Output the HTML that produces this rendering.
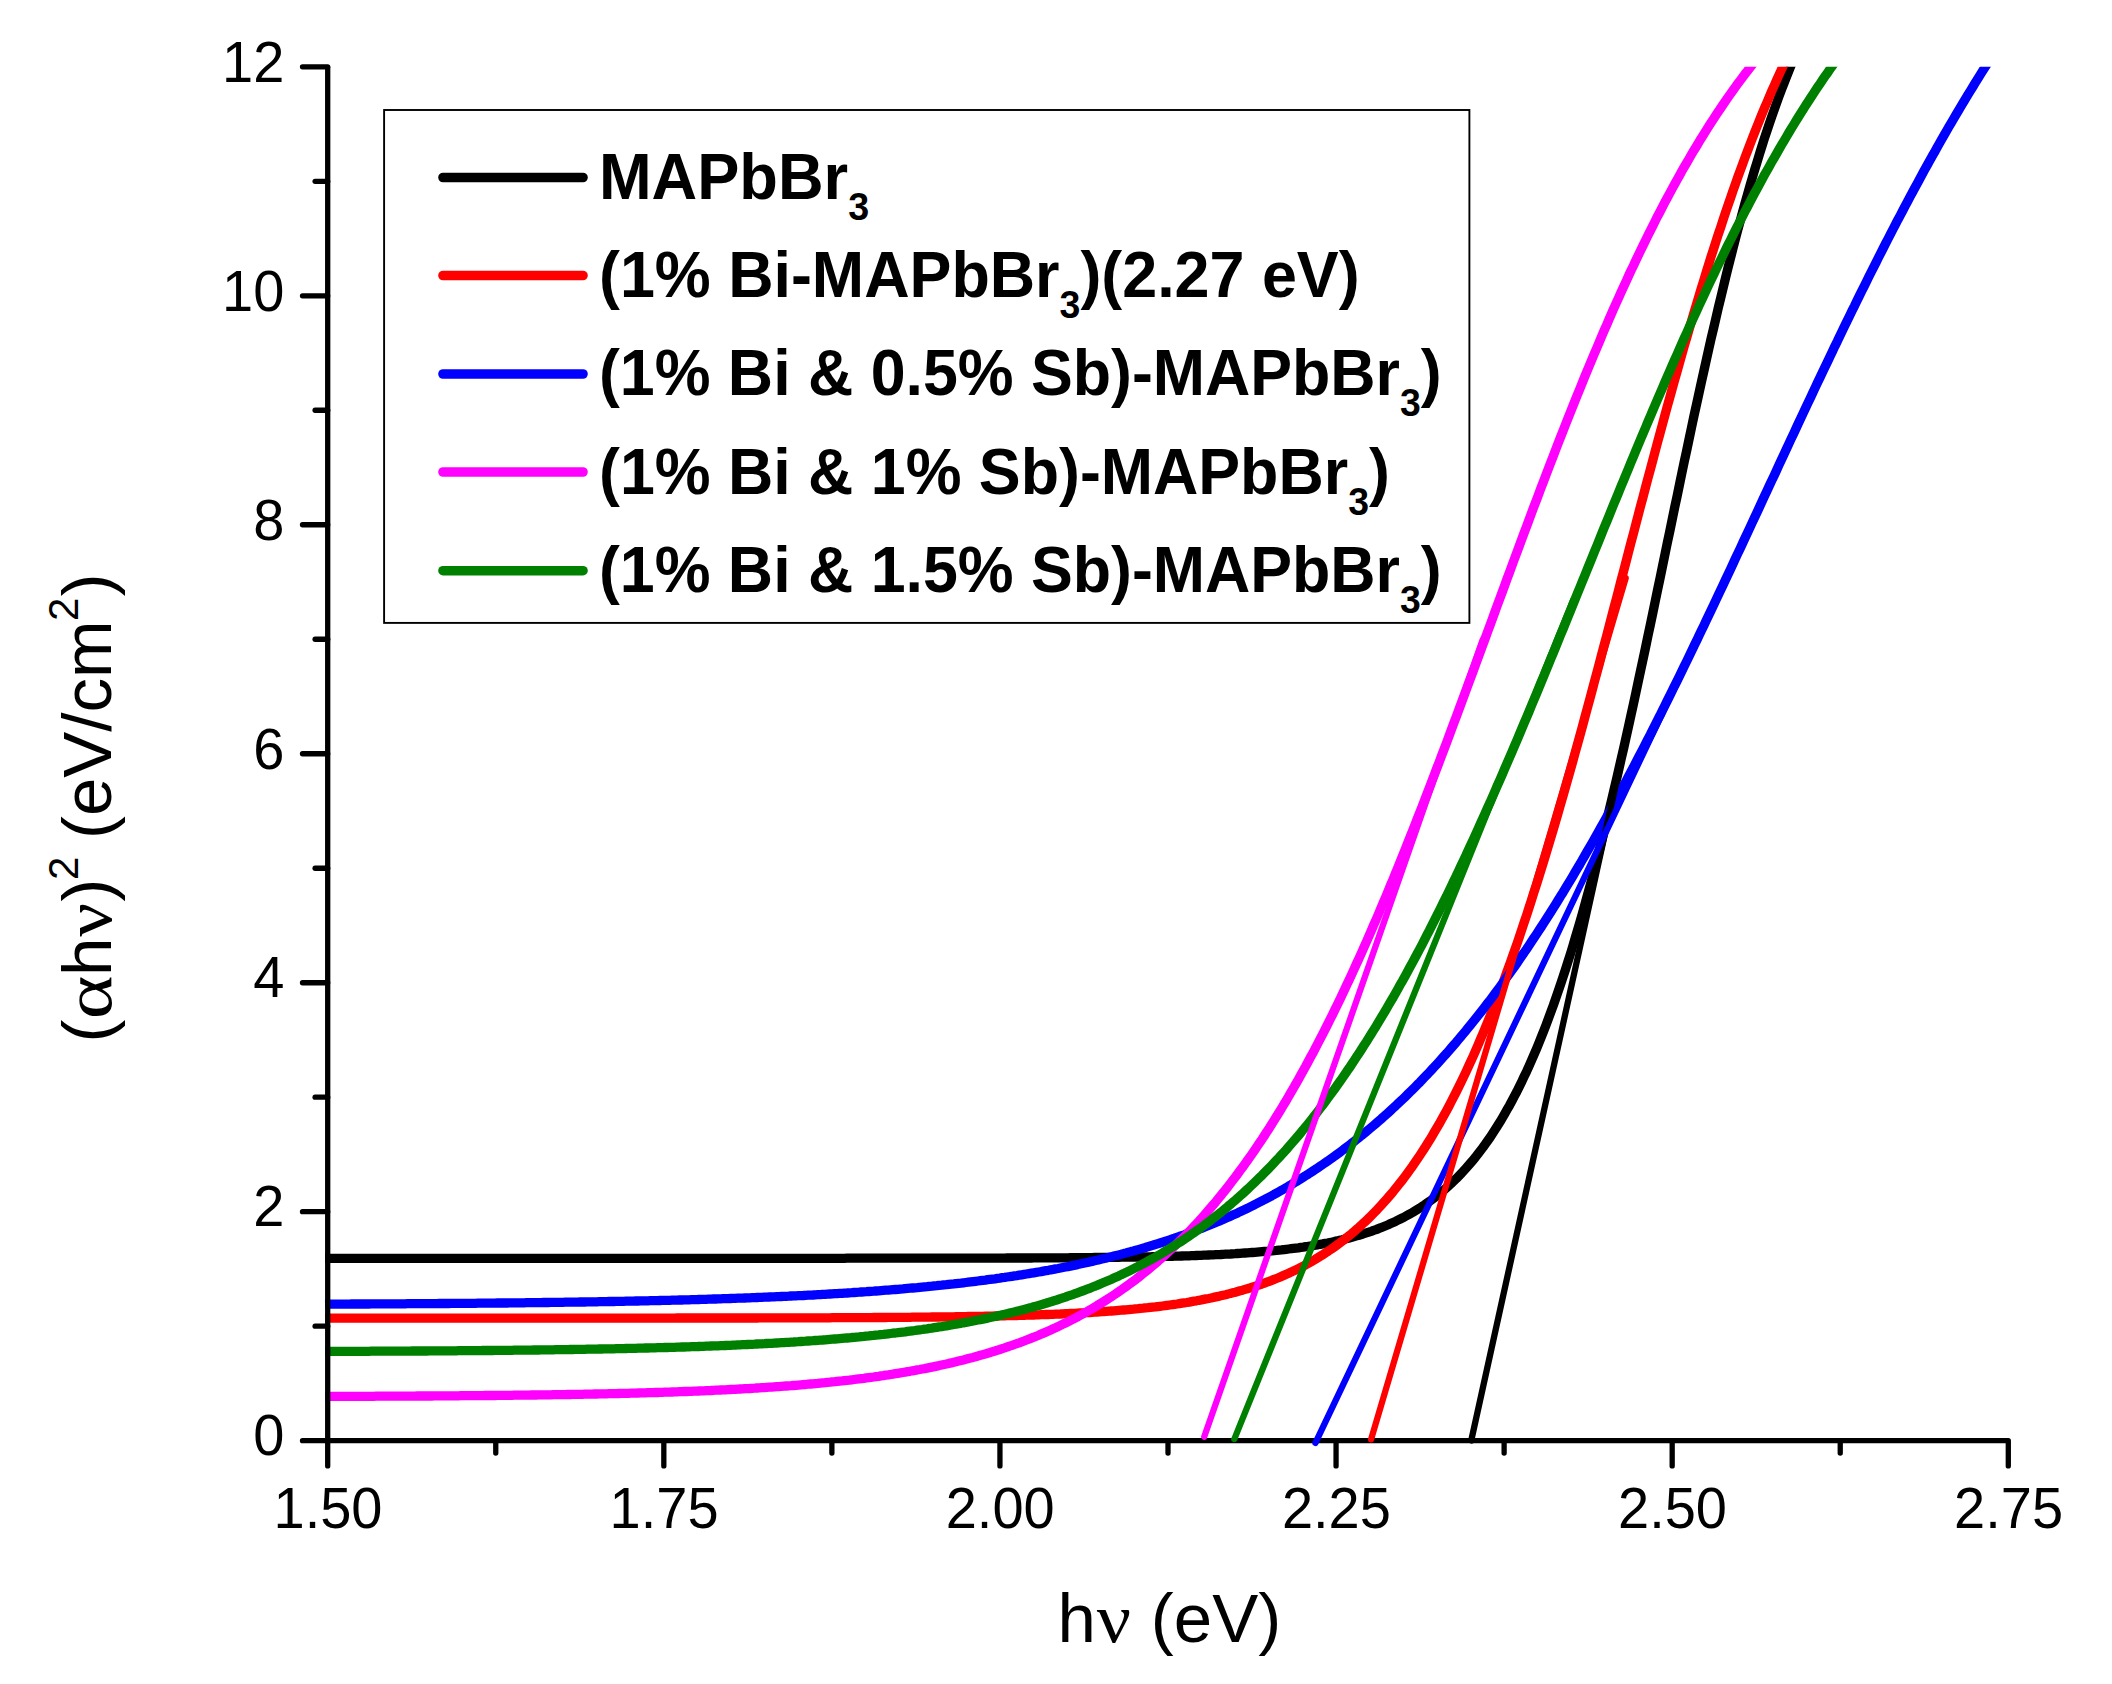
<!DOCTYPE html>
<html><head><meta charset="utf-8"><title>Tauc plot</title>
<style>
html,body{margin:0;padding:0;background:#fff;}
svg{display:block;}
text{font-family:"Liberation Sans",sans-serif;fill:#000;}
.tk{font-size:58.2px;}
.lg{font-size:64.6px;font-weight:bold;}
.sub{font-size:38.5px;font-weight:bold;}
.ax{font-size:69px;}
.sup{font-size:42px;}
.gr{font-family:"Liberation Serif","DejaVu Serif",serif;}
</style></head><body>
<svg width="2112" height="1684" viewBox="0 0 2112 1684">
<rect width="2112" height="1684" fill="#fff"/>
<defs><clipPath id="cp"><rect x="324.7" y="66.8" width="1690.6" height="1373.9"/></clipPath></defs>

<g clip-path="url(#cp)" fill="none" stroke-linejoin="round">
<path d="M325.0,1258.3 L327.4,1258.3 L329.9,1258.3 L332.3,1258.3 L334.7,1258.3 L337.1,1258.3 L339.6,1258.3 L342.0,1258.3 L344.4,1258.3 L346.9,1258.3 L349.3,1258.3 L351.7,1258.3 L354.1,1258.3 L356.6,1258.3 L359.0,1258.3 L361.4,1258.3 L363.8,1258.3 L366.3,1258.3 L368.7,1258.3 L371.1,1258.3 L373.6,1258.3 L376.0,1258.3 L378.4,1258.3 L380.8,1258.3 L383.3,1258.3 L385.7,1258.3 L388.1,1258.3 L390.6,1258.3 L393.0,1258.3 L395.4,1258.3 L397.8,1258.3 L400.3,1258.3 L402.7,1258.3 L405.1,1258.3 L407.5,1258.3 L410.0,1258.3 L412.4,1258.3 L414.8,1258.3 L417.3,1258.3 L419.7,1258.3 L422.1,1258.3 L424.5,1258.3 L427.0,1258.3 L429.4,1258.3 L431.8,1258.3 L434.2,1258.3 L436.7,1258.3 L439.1,1258.3 L441.5,1258.3 L444.0,1258.3 L446.4,1258.3 L448.8,1258.3 L451.2,1258.3 L453.7,1258.3 L456.1,1258.3 L458.5,1258.3 L460.9,1258.3 L463.4,1258.3 L465.8,1258.3 L468.2,1258.3 L470.7,1258.3 L473.1,1258.3 L475.5,1258.3 L477.9,1258.3 L480.4,1258.3 L482.8,1258.3 L485.2,1258.3 L487.6,1258.3 L490.1,1258.3 L492.5,1258.3 L494.9,1258.3 L497.4,1258.3 L499.8,1258.3 L502.2,1258.3 L504.6,1258.3 L507.1,1258.3 L509.5,1258.3 L511.9,1258.3 L514.3,1258.3 L516.8,1258.3 L519.2,1258.3 L521.6,1258.3 L524.1,1258.3 L526.5,1258.3 L528.9,1258.3 L531.3,1258.3 L533.8,1258.3 L536.2,1258.3 L538.6,1258.3 L541.0,1258.3 L543.5,1258.3 L545.9,1258.3 L548.3,1258.3 L550.8,1258.3 L553.2,1258.3 L555.6,1258.3 L558.0,1258.3 L560.5,1258.3 L562.9,1258.3 L565.3,1258.3 L567.7,1258.3 L570.2,1258.3 L572.6,1258.3 L575.0,1258.3 L577.5,1258.3 L579.9,1258.3 L582.3,1258.3 L584.7,1258.3 L587.2,1258.3 L589.6,1258.3 L592.0,1258.3 L594.4,1258.3 L596.9,1258.3 L599.3,1258.3 L601.7,1258.3 L604.2,1258.3 L606.6,1258.3 L609.0,1258.3 L611.4,1258.3 L613.9,1258.3 L616.3,1258.3 L618.7,1258.3 L621.2,1258.3 L623.6,1258.3 L626.0,1258.3 L628.4,1258.3 L630.9,1258.3 L633.3,1258.3 L635.7,1258.3 L638.1,1258.3 L640.6,1258.3 L643.0,1258.3 L645.4,1258.3 L647.9,1258.3 L650.3,1258.3 L652.7,1258.3 L655.1,1258.3 L657.6,1258.3 L660.0,1258.3 L662.4,1258.3 L664.8,1258.3 L667.3,1258.3 L669.7,1258.3 L672.1,1258.3 L674.6,1258.3 L677.0,1258.3 L679.4,1258.3 L681.8,1258.3 L684.3,1258.3 L686.7,1258.3 L689.1,1258.3 L691.5,1258.3 L694.0,1258.3 L696.4,1258.3 L698.8,1258.3 L701.3,1258.3 L703.7,1258.3 L706.1,1258.3 L708.5,1258.3 L711.0,1258.3 L713.4,1258.3 L715.8,1258.3 L718.2,1258.3 L720.7,1258.3 L723.1,1258.3 L725.5,1258.3 L728.0,1258.3 L730.4,1258.3 L732.8,1258.3 L735.2,1258.3 L737.7,1258.3 L740.1,1258.3 L742.5,1258.3 L744.9,1258.3 L747.4,1258.3 L749.8,1258.3 L752.2,1258.3 L754.7,1258.3 L757.1,1258.3 L759.5,1258.3 L761.9,1258.3 L764.4,1258.3 L766.8,1258.3 L769.2,1258.3 L771.6,1258.3 L774.1,1258.3 L776.5,1258.3 L778.9,1258.3 L781.4,1258.3 L783.8,1258.3 L786.2,1258.3 L788.6,1258.3 L791.1,1258.3 L793.5,1258.3 L795.9,1258.3 L798.3,1258.3 L800.8,1258.3 L803.2,1258.3 L805.6,1258.3 L808.1,1258.3 L810.5,1258.3 L812.9,1258.3 L815.3,1258.3 L817.8,1258.3 L820.2,1258.3 L822.6,1258.3 L825.0,1258.3 L827.5,1258.3 L829.9,1258.3 L832.3,1258.3 L834.8,1258.3 L837.2,1258.3 L839.6,1258.3 L842.0,1258.3 L844.5,1258.3 L846.9,1258.2 L849.3,1258.2 L851.8,1258.2 L854.2,1258.2 L856.6,1258.2 L859.0,1258.2 L861.5,1258.2 L863.9,1258.2 L866.3,1258.2 L868.7,1258.2 L871.2,1258.2 L873.6,1258.2 L876.0,1258.2 L878.5,1258.2 L880.9,1258.2 L883.3,1258.2 L885.7,1258.2 L888.2,1258.2 L890.6,1258.2 L893.0,1258.2 L895.4,1258.2 L897.9,1258.2 L900.3,1258.2 L902.7,1258.2 L905.2,1258.2 L907.6,1258.2 L910.0,1258.2 L912.4,1258.2 L914.9,1258.2 L917.3,1258.2 L919.7,1258.2 L922.1,1258.2 L924.6,1258.2 L927.0,1258.2 L929.4,1258.2 L931.9,1258.2 L934.3,1258.2 L936.7,1258.2 L939.1,1258.2 L941.6,1258.2 L944.0,1258.2 L946.4,1258.2 L948.8,1258.2 L951.3,1258.2 L953.7,1258.2 L956.1,1258.2 L958.6,1258.2 L961.0,1258.2 L963.4,1258.1 L965.8,1258.1 L968.3,1258.1 L970.7,1258.1 L973.1,1258.1 L975.5,1258.1 L978.0,1258.1 L980.4,1258.1 L982.8,1258.1 L985.3,1258.1 L987.7,1258.1 L990.1,1258.1 L992.5,1258.1 L995.0,1258.1 L997.4,1258.1 L999.8,1258.1 L1002.2,1258.1 L1004.7,1258.1 L1007.1,1258.0 L1009.5,1258.0 L1012.0,1258.0 L1014.4,1258.0 L1016.8,1258.0 L1019.2,1258.0 L1021.7,1258.0 L1024.1,1258.0 L1026.5,1258.0 L1028.9,1258.0 L1031.4,1258.0 L1033.8,1257.9 L1036.2,1257.9 L1038.7,1257.9 L1041.1,1257.9 L1043.5,1257.9 L1045.9,1257.9 L1048.4,1257.9 L1050.8,1257.9 L1053.2,1257.9 L1055.7,1257.8 L1058.1,1257.8 L1060.5,1257.8 L1062.9,1257.8 L1065.4,1257.8 L1067.8,1257.8 L1070.2,1257.7 L1072.6,1257.7 L1075.1,1257.7 L1077.5,1257.7 L1079.9,1257.7 L1082.4,1257.7 L1084.8,1257.6 L1087.2,1257.6 L1089.6,1257.6 L1092.1,1257.6 L1094.5,1257.5 L1096.9,1257.5 L1099.3,1257.5 L1101.8,1257.5 L1104.2,1257.4 L1106.6,1257.4 L1109.1,1257.4 L1111.5,1257.4 L1113.9,1257.3 L1116.3,1257.3 L1118.8,1257.3 L1121.2,1257.2 L1123.6,1257.2 L1126.0,1257.2 L1128.5,1257.1 L1130.9,1257.1 L1133.3,1257.1 L1135.8,1257.0 L1138.2,1257.0 L1140.6,1256.9 L1143.0,1256.9 L1145.5,1256.9 L1147.9,1256.8 L1150.3,1256.8 L1152.7,1256.7 L1155.2,1256.7 L1157.6,1256.6 L1160.0,1256.6 L1162.5,1256.5 L1164.9,1256.4 L1167.3,1256.4 L1169.7,1256.3 L1172.2,1256.3 L1174.6,1256.2 L1177.0,1256.1 L1179.4,1256.1 L1181.9,1256.0 L1184.3,1255.9 L1186.7,1255.8 L1189.2,1255.8 L1191.6,1255.7 L1194.0,1255.6 L1196.4,1255.5 L1198.9,1255.4 L1201.3,1255.3 L1203.7,1255.2 L1206.1,1255.1 L1208.6,1255.0 L1211.0,1254.9 L1213.4,1254.8 L1215.9,1254.7 L1218.3,1254.6 L1220.7,1254.5 L1223.1,1254.3 L1225.6,1254.2 L1228.0,1254.1 L1230.4,1254.0 L1232.8,1253.8 L1235.3,1253.7 L1237.7,1253.5 L1240.1,1253.4 L1242.6,1253.2 L1245.0,1253.0 L1247.4,1252.9 L1249.8,1252.7 L1252.3,1252.5 L1254.7,1252.3 L1257.1,1252.1 L1259.5,1251.9 L1262.0,1251.7 L1264.4,1251.5 L1266.8,1251.3 L1269.3,1251.1 L1271.7,1250.9 L1274.1,1250.6 L1276.5,1250.4 L1279.0,1250.1 L1281.4,1249.9 L1283.8,1249.6 L1286.3,1249.3 L1288.7,1249.0 L1291.1,1248.7 L1293.5,1248.4 L1296.0,1248.1 L1298.4,1247.8 L1300.8,1247.4 L1303.2,1247.1 L1305.7,1246.7 L1308.1,1246.4 L1310.5,1246.0 L1313.0,1245.6 L1315.4,1245.2 L1317.8,1244.8 L1320.2,1244.3 L1322.7,1243.9 L1325.1,1243.4 L1327.5,1243.0 L1329.9,1242.5 L1332.4,1242.0 L1334.8,1241.4 L1337.2,1240.9 L1339.7,1240.3 L1342.1,1239.8 L1344.5,1239.2 L1346.9,1238.6 L1349.4,1237.9 L1351.8,1237.3 L1354.2,1236.6 L1356.6,1235.9 L1359.1,1235.2 L1361.5,1234.5 L1363.9,1233.7 L1366.4,1232.9 L1368.8,1232.1 L1371.2,1231.3 L1373.6,1230.4 L1376.1,1229.6 L1378.5,1228.6 L1380.9,1227.7 L1383.3,1226.7 L1385.8,1225.7 L1388.2,1224.7 L1390.6,1223.6 L1393.1,1222.5 L1395.5,1221.4 L1397.9,1220.2 L1400.3,1219.0 L1402.8,1217.8 L1405.2,1216.5 L1407.6,1215.2 L1410.0,1213.9 L1412.5,1212.5 L1414.9,1211.0 L1417.3,1209.5 L1419.8,1208.0 L1422.2,1206.4 L1424.6,1204.8 L1427.0,1203.1 L1429.5,1201.4 L1431.9,1199.6 L1434.3,1197.8 L1436.7,1195.9 L1439.2,1194.0 L1441.6,1192.0 L1444.0,1189.9 L1446.5,1187.8 L1448.9,1185.6 L1451.3,1183.4 L1453.7,1181.0 L1456.2,1178.7 L1458.6,1176.2 L1461.0,1173.7 L1463.4,1171.1 L1465.9,1168.4 L1468.3,1165.7 L1470.7,1162.9 L1473.2,1159.9 L1475.6,1157.0 L1478.0,1153.9 L1480.4,1150.7 L1482.9,1147.5 L1485.3,1144.1 L1487.7,1140.7 L1490.2,1137.2 L1492.6,1133.5 L1495.0,1129.8 L1497.4,1126.0 L1499.9,1122.1 L1502.3,1118.0 L1504.7,1113.9 L1507.1,1109.6 L1509.6,1105.3 L1512.0,1100.8 L1514.4,1096.2 L1516.9,1091.5 L1519.3,1086.7 L1521.7,1081.7 L1524.1,1076.6 L1526.6,1071.4 L1529.0,1066.1 L1531.4,1060.7 L1533.8,1055.1 L1536.3,1049.3 L1538.7,1043.5 L1541.1,1037.5 L1543.6,1031.3 L1546.0,1025.1 L1548.4,1018.6 L1550.8,1012.1 L1553.3,1005.4 L1555.7,998.5 L1558.1,991.5 L1560.5,984.4 L1563.0,977.1 L1565.4,969.7 L1567.8,962.1 L1570.3,954.3 L1572.7,946.5 L1575.1,938.4 L1577.5,930.2 L1580.0,921.9 L1582.4,913.4 L1584.8,904.8 L1587.2,896.0 L1589.7,887.1 L1592.1,878.1 L1594.5,868.8 L1597.0,859.5 L1599.4,850.0 L1601.8,840.4 L1604.2,830.6 L1606.7,820.7 L1609.1,810.7 L1611.5,800.6 L1613.9,790.3 L1616.4,779.9 L1618.8,769.4 L1621.2,758.8 L1623.7,748.1 L1626.1,737.3 L1628.5,726.4 L1630.9,715.4 L1633.4,704.3 L1635.8,693.1 L1638.2,681.8 L1640.6,670.5 L1643.1,659.1 L1645.5,647.7 L1647.9,636.1 L1650.4,624.6 L1652.8,613.0 L1655.2,601.4 L1657.6,589.7 L1660.1,578.0 L1662.5,566.3 L1664.9,554.6 L1667.3,542.9 L1669.8,531.2 L1672.2,519.5 L1674.6,507.8 L1677.1,496.2 L1679.5,484.5 L1681.9,472.9 L1684.3,461.4 L1686.8,449.9 L1689.2,438.5 L1691.6,427.1 L1694.0,415.8 L1696.5,404.6 L1698.9,393.5 L1701.3,382.4 L1703.8,371.4 L1706.2,360.6 L1708.6,349.8 L1711.0,339.1 L1713.5,328.6 L1715.9,318.2 L1718.3,307.8 L1720.8,297.7 L1723.2,287.6 L1725.6,277.7 L1728.0,267.9 L1730.5,258.2 L1732.9,248.7 L1735.3,239.3 L1737.7,230.1 L1740.2,221.0 L1742.6,212.0 L1745.0,203.3 L1747.5,194.6 L1749.9,186.1 L1752.3,177.8 L1754.7,169.6 L1757.2,161.6 L1759.6,153.7 L1762.0,146.0 L1764.4,138.4 L1766.9,131.0 L1769.3,123.8 L1771.7,116.7 L1774.2,109.7 L1776.6,103.0 L1779.0,96.3 L1781.4,89.8 L1783.9,83.5 L1786.3,77.3 L1788.7,71.2 L1791.1,65.3 L1793.6,59.5 L1796.0,53.9 L1798.4,48.4 L1800.9,43.1 L1803.3,37.9 L1805.7,32.8" stroke="#000000" stroke-width="9.3"/>
<path d="M325.0,1318.1 L327.4,1318.1 L329.9,1318.1 L332.3,1318.1 L334.7,1318.1 L337.1,1318.1 L339.6,1318.1 L342.0,1318.1 L344.4,1318.1 L346.9,1318.1 L349.3,1318.1 L351.7,1318.1 L354.1,1318.1 L356.6,1318.1 L359.0,1318.1 L361.4,1318.1 L363.8,1318.1 L366.3,1318.1 L368.7,1318.1 L371.1,1318.1 L373.6,1318.1 L376.0,1318.1 L378.4,1318.1 L380.8,1318.1 L383.3,1318.1 L385.7,1318.1 L388.1,1318.1 L390.6,1318.1 L393.0,1318.1 L395.4,1318.1 L397.8,1318.1 L400.3,1318.1 L402.7,1318.1 L405.1,1318.1 L407.5,1318.1 L410.0,1318.1 L412.4,1318.1 L414.8,1318.1 L417.3,1318.1 L419.7,1318.1 L422.1,1318.1 L424.5,1318.1 L427.0,1318.1 L429.4,1318.1 L431.8,1318.1 L434.2,1318.1 L436.7,1318.1 L439.1,1318.1 L441.5,1318.1 L444.0,1318.1 L446.4,1318.1 L448.8,1318.1 L451.2,1318.1 L453.7,1318.1 L456.1,1318.1 L458.5,1318.1 L460.9,1318.1 L463.4,1318.1 L465.8,1318.1 L468.2,1318.1 L470.7,1318.1 L473.1,1318.1 L475.5,1318.1 L477.9,1318.1 L480.4,1318.1 L482.8,1318.1 L485.2,1318.1 L487.6,1318.1 L490.1,1318.1 L492.5,1318.1 L494.9,1318.1 L497.4,1318.1 L499.8,1318.1 L502.2,1318.1 L504.6,1318.1 L507.1,1318.1 L509.5,1318.1 L511.9,1318.1 L514.3,1318.1 L516.8,1318.1 L519.2,1318.1 L521.6,1318.1 L524.1,1318.1 L526.5,1318.1 L528.9,1318.1 L531.3,1318.1 L533.8,1318.1 L536.2,1318.1 L538.6,1318.1 L541.0,1318.1 L543.5,1318.1 L545.9,1318.1 L548.3,1318.1 L550.8,1318.1 L553.2,1318.1 L555.6,1318.1 L558.0,1318.1 L560.5,1318.1 L562.9,1318.1 L565.3,1318.1 L567.7,1318.1 L570.2,1318.1 L572.6,1318.1 L575.0,1318.1 L577.5,1318.1 L579.9,1318.1 L582.3,1318.1 L584.7,1318.1 L587.2,1318.1 L589.6,1318.1 L592.0,1318.1 L594.4,1318.1 L596.9,1318.1 L599.3,1318.1 L601.7,1318.1 L604.2,1318.1 L606.6,1318.1 L609.0,1318.1 L611.4,1318.1 L613.9,1318.1 L616.3,1318.1 L618.7,1318.1 L621.2,1318.1 L623.6,1318.1 L626.0,1318.1 L628.4,1318.1 L630.9,1318.1 L633.3,1318.1 L635.7,1318.1 L638.1,1318.1 L640.6,1318.1 L643.0,1318.1 L645.4,1318.1 L647.9,1318.1 L650.3,1318.1 L652.7,1318.1 L655.1,1318.1 L657.6,1318.1 L660.0,1318.1 L662.4,1318.1 L664.8,1318.1 L667.3,1318.1 L669.7,1318.1 L672.1,1318.1 L674.6,1318.1 L677.0,1318.0 L679.4,1318.0 L681.8,1318.0 L684.3,1318.0 L686.7,1318.0 L689.1,1318.0 L691.5,1318.0 L694.0,1318.0 L696.4,1318.0 L698.8,1318.0 L701.3,1318.0 L703.7,1318.0 L706.1,1318.0 L708.5,1318.0 L711.0,1318.0 L713.4,1318.0 L715.8,1318.0 L718.2,1318.0 L720.7,1318.0 L723.1,1318.0 L725.5,1318.0 L728.0,1318.0 L730.4,1318.0 L732.8,1318.0 L735.2,1318.0 L737.7,1318.0 L740.1,1318.0 L742.5,1318.0 L744.9,1318.0 L747.4,1318.0 L749.8,1318.0 L752.2,1318.0 L754.7,1318.0 L757.1,1318.0 L759.5,1317.9 L761.9,1317.9 L764.4,1317.9 L766.8,1317.9 L769.2,1317.9 L771.6,1317.9 L774.1,1317.9 L776.5,1317.9 L778.9,1317.9 L781.4,1317.9 L783.8,1317.9 L786.2,1317.9 L788.6,1317.9 L791.1,1317.9 L793.5,1317.9 L795.9,1317.9 L798.3,1317.9 L800.8,1317.9 L803.2,1317.8 L805.6,1317.8 L808.1,1317.8 L810.5,1317.8 L812.9,1317.8 L815.3,1317.8 L817.8,1317.8 L820.2,1317.8 L822.6,1317.8 L825.0,1317.8 L827.5,1317.8 L829.9,1317.8 L832.3,1317.7 L834.8,1317.7 L837.2,1317.7 L839.6,1317.7 L842.0,1317.7 L844.5,1317.7 L846.9,1317.7 L849.3,1317.7 L851.8,1317.7 L854.2,1317.6 L856.6,1317.6 L859.0,1317.6 L861.5,1317.6 L863.9,1317.6 L866.3,1317.6 L868.7,1317.6 L871.2,1317.6 L873.6,1317.5 L876.0,1317.5 L878.5,1317.5 L880.9,1317.5 L883.3,1317.5 L885.7,1317.5 L888.2,1317.4 L890.6,1317.4 L893.0,1317.4 L895.4,1317.4 L897.9,1317.4 L900.3,1317.4 L902.7,1317.3 L905.2,1317.3 L907.6,1317.3 L910.0,1317.3 L912.4,1317.2 L914.9,1317.2 L917.3,1317.2 L919.7,1317.2 L922.1,1317.2 L924.6,1317.1 L927.0,1317.1 L929.4,1317.1 L931.9,1317.0 L934.3,1317.0 L936.7,1317.0 L939.1,1317.0 L941.6,1316.9 L944.0,1316.9 L946.4,1316.9 L948.8,1316.8 L951.3,1316.8 L953.7,1316.8 L956.1,1316.7 L958.6,1316.7 L961.0,1316.7 L963.4,1316.6 L965.8,1316.6 L968.3,1316.5 L970.7,1316.5 L973.1,1316.5 L975.5,1316.4 L978.0,1316.4 L980.4,1316.3 L982.8,1316.3 L985.3,1316.2 L987.7,1316.2 L990.1,1316.1 L992.5,1316.1 L995.0,1316.0 L997.4,1316.0 L999.8,1315.9 L1002.2,1315.9 L1004.7,1315.8 L1007.1,1315.7 L1009.5,1315.7 L1012.0,1315.6 L1014.4,1315.6 L1016.8,1315.5 L1019.2,1315.4 L1021.7,1315.4 L1024.1,1315.3 L1026.5,1315.2 L1028.9,1315.1 L1031.4,1315.1 L1033.8,1315.0 L1036.2,1314.9 L1038.7,1314.8 L1041.1,1314.7 L1043.5,1314.6 L1045.9,1314.5 L1048.4,1314.5 L1050.8,1314.4 L1053.2,1314.3 L1055.7,1314.2 L1058.1,1314.1 L1060.5,1314.0 L1062.9,1313.8 L1065.4,1313.7 L1067.8,1313.6 L1070.2,1313.5 L1072.6,1313.4 L1075.1,1313.3 L1077.5,1313.1 L1079.9,1313.0 L1082.4,1312.9 L1084.8,1312.7 L1087.2,1312.6 L1089.6,1312.5 L1092.1,1312.3 L1094.5,1312.2 L1096.9,1312.0 L1099.3,1311.9 L1101.8,1311.7 L1104.2,1311.5 L1106.6,1311.4 L1109.1,1311.2 L1111.5,1311.0 L1113.9,1310.8 L1116.3,1310.6 L1118.8,1310.4 L1121.2,1310.2 L1123.6,1310.0 L1126.0,1309.8 L1128.5,1309.6 L1130.9,1309.4 L1133.3,1309.2 L1135.8,1308.9 L1138.2,1308.7 L1140.6,1308.4 L1143.0,1308.2 L1145.5,1307.9 L1147.9,1307.7 L1150.3,1307.4 L1152.7,1307.1 L1155.2,1306.9 L1157.6,1306.6 L1160.0,1306.3 L1162.5,1306.0 L1164.9,1305.7 L1167.3,1305.3 L1169.7,1305.0 L1172.2,1304.7 L1174.6,1304.3 L1177.0,1304.0 L1179.4,1303.6 L1181.9,1303.2 L1184.3,1302.8 L1186.7,1302.5 L1189.2,1302.1 L1191.6,1301.6 L1194.0,1301.2 L1196.4,1300.8 L1198.9,1300.3 L1201.3,1299.9 L1203.7,1299.4 L1206.1,1298.9 L1208.6,1298.5 L1211.0,1298.0 L1213.4,1297.4 L1215.9,1296.9 L1218.3,1296.4 L1220.7,1295.8 L1223.1,1295.2 L1225.6,1294.7 L1228.0,1294.1 L1230.4,1293.4 L1232.8,1292.8 L1235.3,1292.2 L1237.7,1291.5 L1240.1,1290.8 L1242.6,1290.2 L1245.0,1289.4 L1247.4,1288.7 L1249.8,1288.0 L1252.3,1287.2 L1254.7,1286.4 L1257.1,1285.6 L1259.5,1284.8 L1262.0,1284.0 L1264.4,1283.1 L1266.8,1282.2 L1269.3,1281.3 L1271.7,1280.4 L1274.1,1279.4 L1276.5,1278.5 L1279.0,1277.5 L1281.4,1276.4 L1283.8,1275.4 L1286.3,1274.3 L1288.7,1273.2 L1291.1,1272.1 L1293.5,1270.9 L1296.0,1269.8 L1298.4,1268.6 L1300.8,1267.3 L1303.2,1266.1 L1305.7,1264.8 L1308.1,1263.4 L1310.5,1262.1 L1313.0,1260.7 L1315.4,1259.3 L1317.8,1257.8 L1320.2,1256.3 L1322.7,1254.8 L1325.1,1253.2 L1327.5,1251.6 L1329.9,1250.0 L1332.4,1248.3 L1334.8,1246.6 L1337.2,1244.9 L1339.7,1243.1 L1342.1,1241.2 L1344.5,1239.4 L1346.9,1237.4 L1349.4,1235.5 L1351.8,1233.5 L1354.2,1231.4 L1356.6,1229.3 L1359.1,1227.2 L1361.5,1225.0 L1363.9,1222.7 L1366.4,1220.5 L1368.8,1218.1 L1371.2,1215.7 L1373.6,1213.3 L1376.1,1210.8 L1378.5,1208.2 L1380.9,1205.6 L1383.3,1202.9 L1385.8,1200.2 L1388.2,1197.4 L1390.6,1194.6 L1393.1,1191.7 L1395.5,1188.7 L1397.9,1185.7 L1400.3,1182.6 L1402.8,1179.5 L1405.2,1176.3 L1407.6,1173.0 L1410.0,1169.6 L1412.5,1166.2 L1414.9,1162.7 L1417.3,1159.2 L1419.8,1155.5 L1422.2,1151.8 L1424.6,1148.1 L1427.0,1144.2 L1429.5,1140.3 L1431.9,1136.3 L1434.3,1132.2 L1436.7,1128.1 L1439.2,1123.9 L1441.6,1119.6 L1444.0,1115.2 L1446.5,1110.7 L1448.9,1106.2 L1451.3,1101.5 L1453.7,1096.8 L1456.2,1092.0 L1458.6,1087.2 L1461.0,1082.2 L1463.4,1077.2 L1465.9,1072.0 L1468.3,1066.8 L1470.7,1061.5 L1473.2,1056.1 L1475.6,1050.6 L1478.0,1045.1 L1480.4,1039.4 L1482.9,1033.7 L1485.3,1027.9 L1487.7,1021.9 L1490.2,1015.9 L1492.6,1009.8 L1495.0,1003.6 L1497.4,997.4 L1499.9,991.0 L1502.3,984.5 L1504.7,978.0 L1507.1,971.4 L1509.6,964.7 L1512.0,957.8 L1514.4,951.0 L1516.9,944.0 L1519.3,936.9 L1521.7,929.8 L1524.1,922.5 L1526.6,915.2 L1529.0,907.8 L1531.4,900.3 L1533.8,892.7 L1536.3,885.1 L1538.7,877.4 L1541.1,869.6 L1543.6,861.7 L1546.0,853.7 L1548.4,845.7 L1550.8,837.6 L1553.3,829.4 L1555.7,821.2 L1558.1,812.9 L1560.5,804.5 L1563.0,796.0 L1565.4,787.5 L1567.8,779.0 L1570.3,770.3 L1572.7,761.7 L1575.1,752.9 L1577.5,744.2 L1580.0,735.3 L1582.4,726.5 L1584.8,717.5 L1587.2,708.6 L1589.7,699.6 L1592.1,690.5 L1594.5,681.4 L1597.0,672.3 L1599.4,663.2 L1601.8,654.0 L1604.2,644.8 L1606.7,635.6 L1609.1,626.4 L1611.5,617.1 L1613.9,607.9 L1616.4,598.6 L1618.8,589.3 L1621.2,580.0 L1623.7,570.8 L1626.1,561.5 L1628.5,552.2 L1630.9,542.9 L1633.4,533.6 L1635.8,524.4 L1638.2,515.2 L1640.6,505.9 L1643.1,496.7 L1645.5,487.5 L1647.9,478.4 L1650.4,469.3 L1652.8,460.2 L1655.2,451.1 L1657.6,442.1 L1660.1,433.1 L1662.5,424.1 L1664.9,415.2 L1667.3,406.4 L1669.8,397.6 L1672.2,388.8 L1674.6,380.1 L1677.1,371.4 L1679.5,362.8 L1681.9,354.3 L1684.3,345.8 L1686.8,337.4 L1689.2,329.0 L1691.6,320.7 L1694.0,312.5 L1696.5,304.3 L1698.9,296.3 L1701.3,288.2 L1703.8,280.3 L1706.2,272.4 L1708.6,264.6 L1711.0,256.9 L1713.5,249.3 L1715.9,241.7 L1718.3,234.3 L1720.8,226.9 L1723.2,219.5 L1725.6,212.3 L1728.0,205.2 L1730.5,198.1 L1732.9,191.1 L1735.3,184.2 L1737.7,177.4 L1740.2,170.7 L1742.6,164.1 L1745.0,157.5 L1747.5,151.0 L1749.9,144.7 L1752.3,138.4 L1754.7,132.2 L1757.2,126.1 L1759.6,120.0 L1762.0,114.1 L1764.4,108.2 L1766.9,102.5 L1769.3,96.8 L1771.7,91.2 L1774.2,85.7 L1776.6,80.2 L1779.0,74.9 L1781.4,69.6 L1783.9,64.5 L1786.3,59.4 L1788.7,54.4 L1791.1,49.4 L1793.6,44.6 L1796.0,39.8 L1798.4,35.2" stroke="#ff0000" stroke-width="9.3"/>
<path d="M325.0,1304.2 L327.4,1304.1 L329.9,1304.1 L332.3,1304.1 L334.7,1304.1 L337.1,1304.1 L339.6,1304.1 L342.0,1304.1 L344.4,1304.1 L346.9,1304.1 L349.3,1304.1 L351.7,1304.0 L354.1,1304.0 L356.6,1304.0 L359.0,1304.0 L361.4,1304.0 L363.8,1304.0 L366.3,1304.0 L368.7,1304.0 L371.1,1303.9 L373.6,1303.9 L376.0,1303.9 L378.4,1303.9 L380.8,1303.9 L383.3,1303.9 L385.7,1303.9 L388.1,1303.9 L390.6,1303.8 L393.0,1303.8 L395.4,1303.8 L397.8,1303.8 L400.3,1303.8 L402.7,1303.8 L405.1,1303.8 L407.5,1303.7 L410.0,1303.7 L412.4,1303.7 L414.8,1303.7 L417.3,1303.7 L419.7,1303.7 L422.1,1303.7 L424.5,1303.6 L427.0,1303.6 L429.4,1303.6 L431.8,1303.6 L434.2,1303.6 L436.7,1303.6 L439.1,1303.5 L441.5,1303.5 L444.0,1303.5 L446.4,1303.5 L448.8,1303.5 L451.2,1303.4 L453.7,1303.4 L456.1,1303.4 L458.5,1303.4 L460.9,1303.4 L463.4,1303.4 L465.8,1303.3 L468.2,1303.3 L470.7,1303.3 L473.1,1303.3 L475.5,1303.3 L477.9,1303.2 L480.4,1303.2 L482.8,1303.2 L485.2,1303.2 L487.6,1303.1 L490.1,1303.1 L492.5,1303.1 L494.9,1303.1 L497.4,1303.0 L499.8,1303.0 L502.2,1303.0 L504.6,1303.0 L507.1,1303.0 L509.5,1302.9 L511.9,1302.9 L514.3,1302.9 L516.8,1302.8 L519.2,1302.8 L521.6,1302.8 L524.1,1302.8 L526.5,1302.7 L528.9,1302.7 L531.3,1302.7 L533.8,1302.7 L536.2,1302.6 L538.6,1302.6 L541.0,1302.6 L543.5,1302.5 L545.9,1302.5 L548.3,1302.5 L550.8,1302.4 L553.2,1302.4 L555.6,1302.4 L558.0,1302.3 L560.5,1302.3 L562.9,1302.3 L565.3,1302.2 L567.7,1302.2 L570.2,1302.2 L572.6,1302.1 L575.0,1302.1 L577.5,1302.1 L579.9,1302.0 L582.3,1302.0 L584.7,1302.0 L587.2,1301.9 L589.6,1301.9 L592.0,1301.8 L594.4,1301.8 L596.9,1301.8 L599.3,1301.7 L601.7,1301.7 L604.2,1301.6 L606.6,1301.6 L609.0,1301.5 L611.4,1301.5 L613.9,1301.5 L616.3,1301.4 L618.7,1301.4 L621.2,1301.3 L623.6,1301.3 L626.0,1301.2 L628.4,1301.2 L630.9,1301.1 L633.3,1301.1 L635.7,1301.0 L638.1,1301.0 L640.6,1300.9 L643.0,1300.9 L645.4,1300.8 L647.9,1300.8 L650.3,1300.7 L652.7,1300.7 L655.1,1300.6 L657.6,1300.6 L660.0,1300.5 L662.4,1300.4 L664.8,1300.4 L667.3,1300.3 L669.7,1300.3 L672.1,1300.2 L674.6,1300.1 L677.0,1300.1 L679.4,1300.0 L681.8,1300.0 L684.3,1299.9 L686.7,1299.8 L689.1,1299.8 L691.5,1299.7 L694.0,1299.6 L696.4,1299.6 L698.8,1299.5 L701.3,1299.4 L703.7,1299.3 L706.1,1299.3 L708.5,1299.2 L711.0,1299.1 L713.4,1299.0 L715.8,1299.0 L718.2,1298.9 L720.7,1298.8 L723.1,1298.7 L725.5,1298.7 L728.0,1298.6 L730.4,1298.5 L732.8,1298.4 L735.2,1298.3 L737.7,1298.2 L740.1,1298.2 L742.5,1298.1 L744.9,1298.0 L747.4,1297.9 L749.8,1297.8 L752.2,1297.7 L754.7,1297.6 L757.1,1297.5 L759.5,1297.4 L761.9,1297.3 L764.4,1297.2 L766.8,1297.1 L769.2,1297.0 L771.6,1296.9 L774.1,1296.8 L776.5,1296.7 L778.9,1296.6 L781.4,1296.5 L783.8,1296.4 L786.2,1296.3 L788.6,1296.2 L791.1,1296.0 L793.5,1295.9 L795.9,1295.8 L798.3,1295.7 L800.8,1295.6 L803.2,1295.5 L805.6,1295.3 L808.1,1295.2 L810.5,1295.1 L812.9,1295.0 L815.3,1294.8 L817.8,1294.7 L820.2,1294.6 L822.6,1294.4 L825.0,1294.3 L827.5,1294.1 L829.9,1294.0 L832.3,1293.9 L834.8,1293.7 L837.2,1293.6 L839.6,1293.4 L842.0,1293.3 L844.5,1293.1 L846.9,1293.0 L849.3,1292.8 L851.8,1292.7 L854.2,1292.5 L856.6,1292.3 L859.0,1292.2 L861.5,1292.0 L863.9,1291.8 L866.3,1291.7 L868.7,1291.5 L871.2,1291.3 L873.6,1291.2 L876.0,1291.0 L878.5,1290.8 L880.9,1290.6 L883.3,1290.4 L885.7,1290.2 L888.2,1290.1 L890.6,1289.9 L893.0,1289.7 L895.4,1289.5 L897.9,1289.3 L900.3,1289.1 L902.7,1288.9 L905.2,1288.6 L907.6,1288.4 L910.0,1288.2 L912.4,1288.0 L914.9,1287.8 L917.3,1287.6 L919.7,1287.3 L922.1,1287.1 L924.6,1286.9 L927.0,1286.7 L929.4,1286.4 L931.9,1286.2 L934.3,1285.9 L936.7,1285.7 L939.1,1285.4 L941.6,1285.2 L944.0,1284.9 L946.4,1284.7 L948.8,1284.4 L951.3,1284.1 L953.7,1283.9 L956.1,1283.6 L958.6,1283.3 L961.0,1283.1 L963.4,1282.8 L965.8,1282.5 L968.3,1282.2 L970.7,1281.9 L973.1,1281.6 L975.5,1281.3 L978.0,1281.0 L980.4,1280.7 L982.8,1280.4 L985.3,1280.1 L987.7,1279.7 L990.1,1279.4 L992.5,1279.1 L995.0,1278.8 L997.4,1278.4 L999.8,1278.1 L1002.2,1277.7 L1004.7,1277.4 L1007.1,1277.0 L1009.5,1276.7 L1012.0,1276.3 L1014.4,1275.9 L1016.8,1275.6 L1019.2,1275.2 L1021.7,1274.8 L1024.1,1274.4 L1026.5,1274.0 L1028.9,1273.6 L1031.4,1273.2 L1033.8,1272.8 L1036.2,1272.4 L1038.7,1272.0 L1041.1,1271.6 L1043.5,1271.1 L1045.9,1270.7 L1048.4,1270.3 L1050.8,1269.8 L1053.2,1269.4 L1055.7,1268.9 L1058.1,1268.5 L1060.5,1268.0 L1062.9,1267.5 L1065.4,1267.0 L1067.8,1266.6 L1070.2,1266.1 L1072.6,1265.6 L1075.1,1265.1 L1077.5,1264.6 L1079.9,1264.0 L1082.4,1263.5 L1084.8,1263.0 L1087.2,1262.5 L1089.6,1261.9 L1092.1,1261.4 L1094.5,1260.8 L1096.9,1260.3 L1099.3,1259.7 L1101.8,1259.1 L1104.2,1258.5 L1106.6,1257.9 L1109.1,1257.3 L1111.5,1256.7 L1113.9,1256.1 L1116.3,1255.5 L1118.8,1254.9 L1121.2,1254.3 L1123.6,1253.6 L1126.0,1253.0 L1128.5,1252.3 L1130.9,1251.6 L1133.3,1251.0 L1135.8,1250.3 L1138.2,1249.6 L1140.6,1248.9 L1143.0,1248.2 L1145.5,1247.5 L1147.9,1246.7 L1150.3,1246.0 L1152.7,1245.3 L1155.2,1244.5 L1157.6,1243.8 L1160.0,1243.0 L1162.5,1242.2 L1164.9,1241.4 L1167.3,1240.6 L1169.7,1239.8 L1172.2,1239.0 L1174.6,1238.2 L1177.0,1237.3 L1179.4,1236.5 L1181.9,1235.6 L1184.3,1234.8 L1186.7,1233.9 L1189.2,1233.0 L1191.6,1232.1 L1194.0,1231.2 L1196.4,1230.3 L1198.9,1229.3 L1201.3,1228.4 L1203.7,1227.4 L1206.1,1226.5 L1208.6,1225.5 L1211.0,1224.5 L1213.4,1223.5 L1215.9,1222.5 L1218.3,1221.5 L1220.7,1220.4 L1223.1,1219.4 L1225.6,1218.3 L1228.0,1217.3 L1230.4,1216.2 L1232.8,1215.1 L1235.3,1214.0 L1237.7,1212.9 L1240.1,1211.7 L1242.6,1210.6 L1245.0,1209.4 L1247.4,1208.3 L1249.8,1207.1 L1252.3,1205.9 L1254.7,1204.6 L1257.1,1203.4 L1259.5,1202.2 L1262.0,1200.9 L1264.4,1199.7 L1266.8,1198.4 L1269.3,1197.1 L1271.7,1195.8 L1274.1,1194.4 L1276.5,1193.1 L1279.0,1191.7 L1281.4,1190.3 L1283.8,1189.0 L1286.3,1187.6 L1288.7,1186.1 L1291.1,1184.7 L1293.5,1183.2 L1296.0,1181.8 L1298.4,1180.3 L1300.8,1178.8 L1303.2,1177.3 L1305.7,1175.7 L1308.1,1174.2 L1310.5,1172.6 L1313.0,1171.0 L1315.4,1169.4 L1317.8,1167.8 L1320.2,1166.2 L1322.7,1164.5 L1325.1,1162.8 L1327.5,1161.2 L1329.9,1159.5 L1332.4,1157.7 L1334.8,1156.0 L1337.2,1154.2 L1339.7,1152.4 L1342.1,1150.6 L1344.5,1148.8 L1346.9,1147.0 L1349.4,1145.1 L1351.8,1143.2 L1354.2,1141.3 L1356.6,1139.4 L1359.1,1137.5 L1361.5,1135.5 L1363.9,1133.6 L1366.4,1131.6 L1368.8,1129.5 L1371.2,1127.5 L1373.6,1125.5 L1376.1,1123.4 L1378.5,1121.3 L1380.9,1119.2 L1383.3,1117.0 L1385.8,1114.9 L1388.2,1112.7 L1390.6,1110.5 L1393.1,1108.2 L1395.5,1106.0 L1397.9,1103.7 L1400.3,1101.4 L1402.8,1099.1 L1405.2,1096.8 L1407.6,1094.4 L1410.0,1092.0 L1412.5,1089.6 L1414.9,1087.2 L1417.3,1084.7 L1419.8,1082.3 L1422.2,1079.8 L1424.6,1077.2 L1427.0,1074.7 L1429.5,1072.1 L1431.9,1069.5 L1434.3,1066.9 L1436.7,1064.3 L1439.2,1061.6 L1441.6,1058.9 L1444.0,1056.2 L1446.5,1053.5 L1448.9,1050.7 L1451.3,1047.9 L1453.7,1045.1 L1456.2,1042.3 L1458.6,1039.4 L1461.0,1036.5 L1463.4,1033.6 L1465.9,1030.7 L1468.3,1027.7 L1470.7,1024.8 L1473.2,1021.7 L1475.6,1018.7 L1478.0,1015.7 L1480.4,1012.6 L1482.9,1009.5 L1485.3,1006.3 L1487.7,1003.2 L1490.2,1000.0 L1492.6,996.8 L1495.0,993.5 L1497.4,990.3 L1499.9,987.0 L1502.3,983.6 L1504.7,980.3 L1507.1,976.9 L1509.6,973.5 L1512.0,970.1 L1514.4,966.7 L1516.9,963.2 L1519.3,959.7 L1521.7,956.2 L1524.1,952.6 L1526.6,949.1 L1529.0,945.5 L1531.4,941.8 L1533.8,938.2 L1536.3,934.5 L1538.7,930.8 L1541.1,927.1 L1543.6,923.3 L1546.0,919.5 L1548.4,915.7 L1550.8,911.9 L1553.3,908.0 L1555.7,904.2 L1558.1,900.3 L1560.5,896.3 L1563.0,892.4 L1565.4,888.4 L1567.8,884.4 L1570.3,880.3 L1572.7,876.3 L1575.1,872.2 L1577.5,868.1 L1580.0,864.0 L1582.4,859.8 L1584.8,855.6 L1587.2,851.4 L1589.7,847.2 L1592.1,843.0 L1594.5,838.7 L1597.0,834.4 L1599.4,830.1 L1601.8,825.7 L1604.2,821.4 L1606.7,817.0 L1609.1,812.6 L1611.5,808.1 L1613.9,803.7 L1616.4,799.2 L1618.8,794.7 L1621.2,790.2 L1623.7,785.6 L1626.1,781.1 L1628.5,776.5 L1630.9,771.9 L1633.4,767.3 L1635.8,762.6 L1638.2,758.0 L1640.6,753.3 L1643.1,748.6 L1645.5,743.9 L1647.9,739.1 L1650.4,734.4 L1652.8,729.6 L1655.2,724.8 L1657.6,720.0 L1660.1,715.2 L1662.5,710.3 L1664.9,705.5 L1667.3,700.6 L1669.8,695.7 L1672.2,690.8 L1674.6,685.8 L1677.1,680.9 L1679.5,676.0 L1681.9,671.0 L1684.3,666.0 L1686.8,661.0 L1689.2,656.0 L1691.6,651.0 L1694.0,645.9 L1696.5,640.9 L1698.9,635.8 L1701.3,630.8 L1703.8,625.7 L1706.2,620.6 L1708.6,615.5 L1711.0,610.4 L1713.5,605.3 L1715.9,600.1 L1718.3,595.0 L1720.8,589.8 L1723.2,584.7 L1725.6,579.5 L1728.0,574.4 L1730.5,569.2 L1732.9,564.0 L1735.3,558.8 L1737.7,553.6 L1740.2,548.4 L1742.6,543.2 L1745.0,538.0 L1747.5,532.8 L1749.9,527.6 L1752.3,522.4 L1754.7,517.2 L1757.2,511.9 L1759.6,506.7 L1762.0,501.5 L1764.4,496.3 L1766.9,491.0 L1769.3,485.8 L1771.7,480.6 L1774.2,475.4 L1776.6,470.2 L1779.0,464.9 L1781.4,459.7 L1783.9,454.5 L1786.3,449.3 L1788.7,444.1 L1791.1,438.9 L1793.6,433.7 L1796.0,428.5 L1798.4,423.3 L1800.9,418.1 L1803.3,412.9 L1805.7,407.8 L1808.1,402.6 L1810.6,397.4 L1813.0,392.3 L1815.4,387.1 L1817.8,382.0 L1820.3,376.9 L1822.7,371.8 L1825.1,366.7 L1827.6,361.6 L1830.0,356.5 L1832.4,351.4 L1834.8,346.3 L1837.3,341.3 L1839.7,336.2 L1842.1,331.2 L1844.5,326.2 L1847.0,321.2 L1849.4,316.2 L1851.8,311.2 L1854.3,306.3 L1856.7,301.3 L1859.1,296.4 L1861.5,291.5 L1864.0,286.6 L1866.4,281.7 L1868.8,276.8 L1871.2,272.0 L1873.7,267.1 L1876.1,262.3 L1878.5,257.5 L1881.0,252.7 L1883.4,247.9 L1885.8,243.2 L1888.2,238.5 L1890.7,233.7 L1893.1,229.0 L1895.5,224.4 L1897.9,219.7 L1900.4,215.1 L1902.8,210.5 L1905.2,205.9 L1907.7,201.3 L1910.1,196.7 L1912.5,192.2 L1914.9,187.7 L1917.4,183.2 L1919.8,178.7 L1922.2,174.3 L1924.6,169.8 L1927.1,165.4 L1929.5,161.1 L1931.9,156.7 L1934.4,152.4 L1936.8,148.0 L1939.2,143.8 L1941.6,139.5 L1944.1,135.2 L1946.5,131.0 L1948.9,126.8 L1951.4,122.6 L1953.8,118.5 L1956.2,114.4 L1958.6,110.3 L1961.1,106.2 L1963.5,102.1 L1965.9,98.1 L1968.3,94.1 L1970.8,90.1 L1973.2,86.2 L1975.6,82.2 L1978.1,78.3 L1980.5,74.4 L1982.9,70.6 L1985.3,66.8 L1987.8,63.0 L1990.2,59.2 L1992.6,55.4 L1995.0,51.7 L1997.5,48.0 L1999.9,44.3 L2002.3,40.7 L2004.8,37.0 L2007.2,33.4" stroke="#0000ff" stroke-width="9.3"/>
<path d="M325.0,1396.4 L327.4,1396.4 L329.9,1396.4 L332.3,1396.4 L334.7,1396.4 L337.1,1396.4 L339.6,1396.4 L342.0,1396.4 L344.4,1396.4 L346.9,1396.4 L349.3,1396.4 L351.7,1396.3 L354.1,1396.3 L356.6,1396.3 L359.0,1396.3 L361.4,1396.3 L363.8,1396.3 L366.3,1396.3 L368.7,1396.3 L371.1,1396.3 L373.6,1396.3 L376.0,1396.2 L378.4,1396.2 L380.8,1396.2 L383.3,1396.2 L385.7,1396.2 L388.1,1396.2 L390.6,1396.2 L393.0,1396.2 L395.4,1396.2 L397.8,1396.1 L400.3,1396.1 L402.7,1396.1 L405.1,1396.1 L407.5,1396.1 L410.0,1396.1 L412.4,1396.1 L414.8,1396.1 L417.3,1396.0 L419.7,1396.0 L422.1,1396.0 L424.5,1396.0 L427.0,1396.0 L429.4,1396.0 L431.8,1396.0 L434.2,1395.9 L436.7,1395.9 L439.1,1395.9 L441.5,1395.9 L444.0,1395.9 L446.4,1395.9 L448.8,1395.8 L451.2,1395.8 L453.7,1395.8 L456.1,1395.8 L458.5,1395.8 L460.9,1395.7 L463.4,1395.7 L465.8,1395.7 L468.2,1395.7 L470.7,1395.7 L473.1,1395.7 L475.5,1395.6 L477.9,1395.6 L480.4,1395.6 L482.8,1395.6 L485.2,1395.5 L487.6,1395.5 L490.1,1395.5 L492.5,1395.5 L494.9,1395.5 L497.4,1395.4 L499.8,1395.4 L502.2,1395.4 L504.6,1395.4 L507.1,1395.3 L509.5,1395.3 L511.9,1395.3 L514.3,1395.2 L516.8,1395.2 L519.2,1395.2 L521.6,1395.2 L524.1,1395.1 L526.5,1395.1 L528.9,1395.1 L531.3,1395.0 L533.8,1395.0 L536.2,1395.0 L538.6,1394.9 L541.0,1394.9 L543.5,1394.9 L545.9,1394.8 L548.3,1394.8 L550.8,1394.8 L553.2,1394.7 L555.6,1394.7 L558.0,1394.7 L560.5,1394.6 L562.9,1394.6 L565.3,1394.6 L567.7,1394.5 L570.2,1394.5 L572.6,1394.4 L575.0,1394.4 L577.5,1394.3 L579.9,1394.3 L582.3,1394.3 L584.7,1394.2 L587.2,1394.2 L589.6,1394.1 L592.0,1394.1 L594.4,1394.0 L596.9,1394.0 L599.3,1393.9 L601.7,1393.9 L604.2,1393.8 L606.6,1393.8 L609.0,1393.7 L611.4,1393.7 L613.9,1393.6 L616.3,1393.6 L618.7,1393.5 L621.2,1393.4 L623.6,1393.4 L626.0,1393.3 L628.4,1393.3 L630.9,1393.2 L633.3,1393.1 L635.7,1393.1 L638.1,1393.0 L640.6,1392.9 L643.0,1392.9 L645.4,1392.8 L647.9,1392.7 L650.3,1392.7 L652.7,1392.6 L655.1,1392.5 L657.6,1392.5 L660.0,1392.4 L662.4,1392.3 L664.8,1392.2 L667.3,1392.1 L669.7,1392.1 L672.1,1392.0 L674.6,1391.9 L677.0,1391.8 L679.4,1391.7 L681.8,1391.6 L684.3,1391.5 L686.7,1391.5 L689.1,1391.4 L691.5,1391.3 L694.0,1391.2 L696.4,1391.1 L698.8,1391.0 L701.3,1390.9 L703.7,1390.8 L706.1,1390.7 L708.5,1390.6 L711.0,1390.5 L713.4,1390.3 L715.8,1390.2 L718.2,1390.1 L720.7,1390.0 L723.1,1389.9 L725.5,1389.8 L728.0,1389.6 L730.4,1389.5 L732.8,1389.4 L735.2,1389.3 L737.7,1389.1 L740.1,1389.0 L742.5,1388.9 L744.9,1388.7 L747.4,1388.6 L749.8,1388.5 L752.2,1388.3 L754.7,1388.2 L757.1,1388.0 L759.5,1387.9 L761.9,1387.7 L764.4,1387.6 L766.8,1387.4 L769.2,1387.2 L771.6,1387.1 L774.1,1386.9 L776.5,1386.7 L778.9,1386.6 L781.4,1386.4 L783.8,1386.2 L786.2,1386.0 L788.6,1385.8 L791.1,1385.7 L793.5,1385.5 L795.9,1385.3 L798.3,1385.1 L800.8,1384.9 L803.2,1384.7 L805.6,1384.5 L808.1,1384.2 L810.5,1384.0 L812.9,1383.8 L815.3,1383.6 L817.8,1383.4 L820.2,1383.1 L822.6,1382.9 L825.0,1382.7 L827.5,1382.4 L829.9,1382.2 L832.3,1381.9 L834.8,1381.7 L837.2,1381.4 L839.6,1381.1 L842.0,1380.9 L844.5,1380.6 L846.9,1380.3 L849.3,1380.1 L851.8,1379.8 L854.2,1379.5 L856.6,1379.2 L859.0,1378.9 L861.5,1378.6 L863.9,1378.3 L866.3,1377.9 L868.7,1377.6 L871.2,1377.3 L873.6,1377.0 L876.0,1376.6 L878.5,1376.3 L880.9,1375.9 L883.3,1375.6 L885.7,1375.2 L888.2,1374.9 L890.6,1374.5 L893.0,1374.1 L895.4,1373.7 L897.9,1373.3 L900.3,1372.9 L902.7,1372.5 L905.2,1372.1 L907.6,1371.7 L910.0,1371.3 L912.4,1370.8 L914.9,1370.4 L917.3,1369.9 L919.7,1369.5 L922.1,1369.0 L924.6,1368.6 L927.0,1368.1 L929.4,1367.6 L931.9,1367.1 L934.3,1366.6 L936.7,1366.1 L939.1,1365.6 L941.6,1365.0 L944.0,1364.5 L946.4,1364.0 L948.8,1363.4 L951.3,1362.9 L953.7,1362.3 L956.1,1361.7 L958.6,1361.1 L961.0,1360.5 L963.4,1359.9 L965.8,1359.3 L968.3,1358.6 L970.7,1358.0 L973.1,1357.4 L975.5,1356.7 L978.0,1356.0 L980.4,1355.3 L982.8,1354.6 L985.3,1353.9 L987.7,1353.2 L990.1,1352.5 L992.5,1351.7 L995.0,1351.0 L997.4,1350.2 L999.8,1349.5 L1002.2,1348.7 L1004.7,1347.9 L1007.1,1347.0 L1009.5,1346.2 L1012.0,1345.4 L1014.4,1344.5 L1016.8,1343.6 L1019.2,1342.8 L1021.7,1341.9 L1024.1,1341.0 L1026.5,1340.0 L1028.9,1339.1 L1031.4,1338.1 L1033.8,1337.2 L1036.2,1336.2 L1038.7,1335.2 L1041.1,1334.1 L1043.5,1333.1 L1045.9,1332.1 L1048.4,1331.0 L1050.8,1329.9 L1053.2,1328.8 L1055.7,1327.7 L1058.1,1326.6 L1060.5,1325.4 L1062.9,1324.2 L1065.4,1323.0 L1067.8,1321.8 L1070.2,1320.6 L1072.6,1319.4 L1075.1,1318.1 L1077.5,1316.8 L1079.9,1315.5 L1082.4,1314.2 L1084.8,1312.8 L1087.2,1311.5 L1089.6,1310.1 L1092.1,1308.7 L1094.5,1307.2 L1096.9,1305.8 L1099.3,1304.3 L1101.8,1302.8 L1104.2,1301.3 L1106.6,1299.8 L1109.1,1298.2 L1111.5,1296.6 L1113.9,1295.0 L1116.3,1293.4 L1118.8,1291.7 L1121.2,1290.0 L1123.6,1288.3 L1126.0,1286.6 L1128.5,1284.8 L1130.9,1283.0 L1133.3,1281.2 L1135.8,1279.4 L1138.2,1277.5 L1140.6,1275.6 L1143.0,1273.7 L1145.5,1271.7 L1147.9,1269.8 L1150.3,1267.7 L1152.7,1265.7 L1155.2,1263.6 L1157.6,1261.6 L1160.0,1259.4 L1162.5,1257.3 L1164.9,1255.1 L1167.3,1252.9 L1169.7,1250.6 L1172.2,1248.4 L1174.6,1246.0 L1177.0,1243.7 L1179.4,1241.3 L1181.9,1238.9 L1184.3,1236.5 L1186.7,1234.0 L1189.2,1231.5 L1191.6,1229.0 L1194.0,1226.4 L1196.4,1223.8 L1198.9,1221.2 L1201.3,1218.5 L1203.7,1215.8 L1206.1,1213.0 L1208.6,1210.2 L1211.0,1207.4 L1213.4,1204.6 L1215.9,1201.7 L1218.3,1198.7 L1220.7,1195.8 L1223.1,1192.7 L1225.6,1189.7 L1228.0,1186.6 L1230.4,1183.5 L1232.8,1180.3 L1235.3,1177.1 L1237.7,1173.9 L1240.1,1170.6 L1242.6,1167.3 L1245.0,1163.9 L1247.4,1160.5 L1249.8,1157.1 L1252.3,1153.6 L1254.7,1150.1 L1257.1,1146.5 L1259.5,1142.9 L1262.0,1139.3 L1264.4,1135.6 L1266.8,1131.8 L1269.3,1128.1 L1271.7,1124.3 L1274.1,1120.4 L1276.5,1116.5 L1279.0,1112.5 L1281.4,1108.6 L1283.8,1104.5 L1286.3,1100.5 L1288.7,1096.3 L1291.1,1092.2 L1293.5,1088.0 L1296.0,1083.7 L1298.4,1079.4 L1300.8,1075.1 L1303.2,1070.7 L1305.7,1066.3 L1308.1,1061.8 L1310.5,1057.3 L1313.0,1052.8 L1315.4,1048.2 L1317.8,1043.5 L1320.2,1038.9 L1322.7,1034.1 L1325.1,1029.4 L1327.5,1024.6 L1329.9,1019.7 L1332.4,1014.8 L1334.8,1009.9 L1337.2,1004.9 L1339.7,999.9 L1342.1,994.8 L1344.5,989.7 L1346.9,984.5 L1349.4,979.4 L1351.8,974.1 L1354.2,968.8 L1356.6,963.5 L1359.1,958.2 L1361.5,952.8 L1363.9,947.4 L1366.4,941.9 L1368.8,936.4 L1371.2,930.8 L1373.6,925.2 L1376.1,919.6 L1378.5,914.0 L1380.9,908.3 L1383.3,902.5 L1385.8,896.8 L1388.2,891.0 L1390.6,885.1 L1393.1,879.2 L1395.5,873.3 L1397.9,867.4 L1400.3,861.4 L1402.8,855.4 L1405.2,849.4 L1407.6,843.3 L1410.0,837.2 L1412.5,831.1 L1414.9,825.0 L1417.3,818.8 L1419.8,812.6 L1422.2,806.4 L1424.6,800.1 L1427.0,793.8 L1429.5,787.5 L1431.9,781.2 L1434.3,774.9 L1436.7,768.5 L1439.2,762.1 L1441.6,755.7 L1444.0,749.3 L1446.5,742.8 L1448.9,736.4 L1451.3,729.9 L1453.7,723.4 L1456.2,716.9 L1458.6,710.4 L1461.0,703.8 L1463.4,697.3 L1465.9,690.7 L1468.3,684.2 L1470.7,677.6 L1473.2,671.0 L1475.6,664.5 L1478.0,657.9 L1480.4,651.3 L1482.9,644.7 L1485.3,638.1 L1487.7,631.5 L1490.2,624.9 L1492.6,618.2 L1495.0,611.6 L1497.4,605.0 L1499.9,598.4 L1502.3,591.8 L1504.7,585.3 L1507.1,578.7 L1509.6,572.1 L1512.0,565.5 L1514.4,559.0 L1516.9,552.4 L1519.3,545.9 L1521.7,539.4 L1524.1,532.8 L1526.6,526.3 L1529.0,519.8 L1531.4,513.4 L1533.8,506.9 L1536.3,500.5 L1538.7,494.1 L1541.1,487.7 L1543.6,481.3 L1546.0,474.9 L1548.4,468.6 L1550.8,462.3 L1553.3,456.0 L1555.7,449.7 L1558.1,443.4 L1560.5,437.2 L1563.0,431.0 L1565.4,424.9 L1567.8,418.7 L1570.3,412.6 L1572.7,406.5 L1575.1,400.5 L1577.5,394.5 L1580.0,388.5 L1582.4,382.5 L1584.8,376.6 L1587.2,370.7 L1589.7,364.8 L1592.1,359.0 L1594.5,353.2 L1597.0,347.5 L1599.4,341.7 L1601.8,336.0 L1604.2,330.4 L1606.7,324.8 L1609.1,319.2 L1611.5,313.7 L1613.9,308.2 L1616.4,302.7 L1618.8,297.3 L1621.2,291.9 L1623.7,286.6 L1626.1,281.3 L1628.5,276.0 L1630.9,270.8 L1633.4,265.7 L1635.8,260.5 L1638.2,255.4 L1640.6,250.4 L1643.1,245.4 L1645.5,240.4 L1647.9,235.5 L1650.4,230.6 L1652.8,225.8 L1655.2,221.0 L1657.6,216.2 L1660.1,211.5 L1662.5,206.9 L1664.9,202.2 L1667.3,197.7 L1669.8,193.1 L1672.2,188.6 L1674.6,184.2 L1677.1,179.8 L1679.5,175.4 L1681.9,171.1 L1684.3,166.9 L1686.8,162.6 L1689.2,158.5 L1691.6,154.3 L1694.0,150.2 L1696.5,146.2 L1698.9,142.2 L1701.3,138.2 L1703.8,134.3 L1706.2,130.4 L1708.6,126.6 L1711.0,122.8 L1713.5,119.0 L1715.9,115.3 L1718.3,111.6 L1720.8,108.0 L1723.2,104.4 L1725.6,100.9 L1728.0,97.4 L1730.5,93.9 L1732.9,90.5 L1735.3,87.1 L1737.7,83.8 L1740.2,80.5 L1742.6,77.3 L1745.0,74.0 L1747.5,70.9 L1749.9,67.7 L1752.3,64.6 L1754.7,61.6 L1757.2,58.5 L1759.6,55.6 L1762.0,52.6 L1764.4,49.7 L1766.9,46.8 L1769.3,44.0 L1771.7,41.2 L1774.2,38.5 L1776.6,35.7 L1779.0,33.0" stroke="#ff00ff" stroke-width="9.3"/>
<path d="M325.0,1351.4 L327.4,1351.4 L329.9,1351.4 L332.3,1351.4 L334.7,1351.4 L337.1,1351.4 L339.6,1351.4 L342.0,1351.4 L344.4,1351.4 L346.9,1351.3 L349.3,1351.3 L351.7,1351.3 L354.1,1351.3 L356.6,1351.3 L359.0,1351.3 L361.4,1351.3 L363.8,1351.3 L366.3,1351.3 L368.7,1351.3 L371.1,1351.2 L373.6,1351.2 L376.0,1351.2 L378.4,1351.2 L380.8,1351.2 L383.3,1351.2 L385.7,1351.2 L388.1,1351.2 L390.6,1351.2 L393.0,1351.1 L395.4,1351.1 L397.8,1351.1 L400.3,1351.1 L402.7,1351.1 L405.1,1351.1 L407.5,1351.1 L410.0,1351.1 L412.4,1351.0 L414.8,1351.0 L417.3,1351.0 L419.7,1351.0 L422.1,1351.0 L424.5,1351.0 L427.0,1351.0 L429.4,1350.9 L431.8,1350.9 L434.2,1350.9 L436.7,1350.9 L439.1,1350.9 L441.5,1350.9 L444.0,1350.9 L446.4,1350.8 L448.8,1350.8 L451.2,1350.8 L453.7,1350.8 L456.1,1350.8 L458.5,1350.7 L460.9,1350.7 L463.4,1350.7 L465.8,1350.7 L468.2,1350.7 L470.7,1350.7 L473.1,1350.6 L475.5,1350.6 L477.9,1350.6 L480.4,1350.6 L482.8,1350.5 L485.2,1350.5 L487.6,1350.5 L490.1,1350.5 L492.5,1350.5 L494.9,1350.4 L497.4,1350.4 L499.8,1350.4 L502.2,1350.4 L504.6,1350.3 L507.1,1350.3 L509.5,1350.3 L511.9,1350.3 L514.3,1350.2 L516.8,1350.2 L519.2,1350.2 L521.6,1350.2 L524.1,1350.1 L526.5,1350.1 L528.9,1350.1 L531.3,1350.1 L533.8,1350.0 L536.2,1350.0 L538.6,1350.0 L541.0,1349.9 L543.5,1349.9 L545.9,1349.9 L548.3,1349.8 L550.8,1349.8 L553.2,1349.8 L555.6,1349.7 L558.0,1349.7 L560.5,1349.7 L562.9,1349.6 L565.3,1349.6 L567.7,1349.6 L570.2,1349.5 L572.6,1349.5 L575.0,1349.4 L577.5,1349.4 L579.9,1349.4 L582.3,1349.3 L584.7,1349.3 L587.2,1349.2 L589.6,1349.2 L592.0,1349.2 L594.4,1349.1 L596.9,1349.1 L599.3,1349.0 L601.7,1349.0 L604.2,1348.9 L606.6,1348.9 L609.0,1348.8 L611.4,1348.8 L613.9,1348.8 L616.3,1348.7 L618.7,1348.7 L621.2,1348.6 L623.6,1348.6 L626.0,1348.5 L628.4,1348.4 L630.9,1348.4 L633.3,1348.3 L635.7,1348.3 L638.1,1348.2 L640.6,1348.2 L643.0,1348.1 L645.4,1348.0 L647.9,1348.0 L650.3,1347.9 L652.7,1347.9 L655.1,1347.8 L657.6,1347.7 L660.0,1347.7 L662.4,1347.6 L664.8,1347.5 L667.3,1347.5 L669.7,1347.4 L672.1,1347.3 L674.6,1347.3 L677.0,1347.2 L679.4,1347.1 L681.8,1347.0 L684.3,1347.0 L686.7,1346.9 L689.1,1346.8 L691.5,1346.7 L694.0,1346.6 L696.4,1346.6 L698.8,1346.5 L701.3,1346.4 L703.7,1346.3 L706.1,1346.2 L708.5,1346.1 L711.0,1346.0 L713.4,1345.9 L715.8,1345.9 L718.2,1345.8 L720.7,1345.7 L723.1,1345.6 L725.5,1345.5 L728.0,1345.4 L730.4,1345.3 L732.8,1345.2 L735.2,1345.1 L737.7,1344.9 L740.1,1344.8 L742.5,1344.7 L744.9,1344.6 L747.4,1344.5 L749.8,1344.4 L752.2,1344.3 L754.7,1344.2 L757.1,1344.0 L759.5,1343.9 L761.9,1343.8 L764.4,1343.7 L766.8,1343.5 L769.2,1343.4 L771.6,1343.3 L774.1,1343.1 L776.5,1343.0 L778.9,1342.9 L781.4,1342.7 L783.8,1342.6 L786.2,1342.4 L788.6,1342.3 L791.1,1342.1 L793.5,1342.0 L795.9,1341.8 L798.3,1341.7 L800.8,1341.5 L803.2,1341.3 L805.6,1341.2 L808.1,1341.0 L810.5,1340.8 L812.9,1340.7 L815.3,1340.5 L817.8,1340.3 L820.2,1340.1 L822.6,1340.0 L825.0,1339.8 L827.5,1339.6 L829.9,1339.4 L832.3,1339.2 L834.8,1339.0 L837.2,1338.8 L839.6,1338.6 L842.0,1338.4 L844.5,1338.2 L846.9,1338.0 L849.3,1337.8 L851.8,1337.5 L854.2,1337.3 L856.6,1337.1 L859.0,1336.9 L861.5,1336.6 L863.9,1336.4 L866.3,1336.1 L868.7,1335.9 L871.2,1335.6 L873.6,1335.4 L876.0,1335.1 L878.5,1334.9 L880.9,1334.6 L883.3,1334.4 L885.7,1334.1 L888.2,1333.8 L890.6,1333.5 L893.0,1333.2 L895.4,1333.0 L897.9,1332.7 L900.3,1332.4 L902.7,1332.1 L905.2,1331.8 L907.6,1331.4 L910.0,1331.1 L912.4,1330.8 L914.9,1330.5 L917.3,1330.1 L919.7,1329.8 L922.1,1329.5 L924.6,1329.1 L927.0,1328.8 L929.4,1328.4 L931.9,1328.1 L934.3,1327.7 L936.7,1327.3 L939.1,1326.9 L941.6,1326.6 L944.0,1326.2 L946.4,1325.8 L948.8,1325.4 L951.3,1325.0 L953.7,1324.5 L956.1,1324.1 L958.6,1323.7 L961.0,1323.3 L963.4,1322.8 L965.8,1322.4 L968.3,1321.9 L970.7,1321.5 L973.1,1321.0 L975.5,1320.5 L978.0,1320.0 L980.4,1319.6 L982.8,1319.1 L985.3,1318.6 L987.7,1318.1 L990.1,1317.5 L992.5,1317.0 L995.0,1316.5 L997.4,1315.9 L999.8,1315.4 L1002.2,1314.8 L1004.7,1314.3 L1007.1,1313.7 L1009.5,1313.1 L1012.0,1312.5 L1014.4,1311.9 L1016.8,1311.3 L1019.2,1310.7 L1021.7,1310.1 L1024.1,1309.4 L1026.5,1308.8 L1028.9,1308.1 L1031.4,1307.5 L1033.8,1306.8 L1036.2,1306.1 L1038.7,1305.4 L1041.1,1304.7 L1043.5,1304.0 L1045.9,1303.3 L1048.4,1302.5 L1050.8,1301.8 L1053.2,1301.0 L1055.7,1300.3 L1058.1,1299.5 L1060.5,1298.7 L1062.9,1297.9 L1065.4,1297.1 L1067.8,1296.2 L1070.2,1295.4 L1072.6,1294.6 L1075.1,1293.7 L1077.5,1292.8 L1079.9,1291.9 L1082.4,1291.0 L1084.8,1290.1 L1087.2,1289.2 L1089.6,1288.3 L1092.1,1287.3 L1094.5,1286.3 L1096.9,1285.4 L1099.3,1284.4 L1101.8,1283.3 L1104.2,1282.3 L1106.6,1281.3 L1109.1,1280.2 L1111.5,1279.2 L1113.9,1278.1 L1116.3,1277.0 L1118.8,1275.9 L1121.2,1274.7 L1123.6,1273.6 L1126.0,1272.4 L1128.5,1271.3 L1130.9,1270.1 L1133.3,1268.9 L1135.8,1267.6 L1138.2,1266.4 L1140.6,1265.1 L1143.0,1263.9 L1145.5,1262.6 L1147.9,1261.2 L1150.3,1259.9 L1152.7,1258.6 L1155.2,1257.2 L1157.6,1255.8 L1160.0,1254.4 L1162.5,1253.0 L1164.9,1251.5 L1167.3,1250.1 L1169.7,1248.6 L1172.2,1247.1 L1174.6,1245.6 L1177.0,1244.0 L1179.4,1242.4 L1181.9,1240.9 L1184.3,1239.3 L1186.7,1237.6 L1189.2,1236.0 L1191.6,1234.3 L1194.0,1232.6 L1196.4,1230.9 L1198.9,1229.2 L1201.3,1227.4 L1203.7,1225.6 L1206.1,1223.8 L1208.6,1222.0 L1211.0,1220.1 L1213.4,1218.2 L1215.9,1216.3 L1218.3,1214.4 L1220.7,1212.5 L1223.1,1210.5 L1225.6,1208.5 L1228.0,1206.4 L1230.4,1204.4 L1232.8,1202.3 L1235.3,1200.2 L1237.7,1198.1 L1240.1,1195.9 L1242.6,1193.7 L1245.0,1191.5 L1247.4,1189.3 L1249.8,1187.0 L1252.3,1184.7 L1254.7,1182.4 L1257.1,1180.0 L1259.5,1177.7 L1262.0,1175.3 L1264.4,1172.8 L1266.8,1170.4 L1269.3,1167.9 L1271.7,1165.3 L1274.1,1162.8 L1276.5,1160.2 L1279.0,1157.6 L1281.4,1154.9 L1283.8,1152.3 L1286.3,1149.6 L1288.7,1146.8 L1291.1,1144.0 L1293.5,1141.2 L1296.0,1138.4 L1298.4,1135.6 L1300.8,1132.7 L1303.2,1129.7 L1305.7,1126.8 L1308.1,1123.8 L1310.5,1120.8 L1313.0,1117.7 L1315.4,1114.6 L1317.8,1111.5 L1320.2,1108.3 L1322.7,1105.1 L1325.1,1101.9 L1327.5,1098.6 L1329.9,1095.3 L1332.4,1092.0 L1334.8,1088.7 L1337.2,1085.3 L1339.7,1081.8 L1342.1,1078.4 L1344.5,1074.9 L1346.9,1071.3 L1349.4,1067.8 L1351.8,1064.2 L1354.2,1060.5 L1356.6,1056.8 L1359.1,1053.1 L1361.5,1049.4 L1363.9,1045.6 L1366.4,1041.8 L1368.8,1037.9 L1371.2,1034.0 L1373.6,1030.1 L1376.1,1026.2 L1378.5,1022.2 L1380.9,1018.1 L1383.3,1014.1 L1385.8,1010.0 L1388.2,1005.8 L1390.6,1001.7 L1393.1,997.5 L1395.5,993.2 L1397.9,988.9 L1400.3,984.6 L1402.8,980.3 L1405.2,975.9 L1407.6,971.5 L1410.0,967.0 L1412.5,962.5 L1414.9,958.0 L1417.3,953.5 L1419.8,948.9 L1422.2,944.3 L1424.6,939.6 L1427.0,934.9 L1429.5,930.2 L1431.9,925.4 L1434.3,920.6 L1436.7,915.8 L1439.2,911.0 L1441.6,906.1 L1444.0,901.1 L1446.5,896.2 L1448.9,891.2 L1451.3,886.2 L1453.7,881.1 L1456.2,876.1 L1458.6,871.0 L1461.0,865.8 L1463.4,860.7 L1465.9,855.5 L1468.3,850.2 L1470.7,845.0 L1473.2,839.7 L1475.6,834.4 L1478.0,829.1 L1480.4,823.7 L1482.9,818.3 L1485.3,812.9 L1487.7,807.4 L1490.2,802.0 L1492.6,796.5 L1495.0,791.0 L1497.4,785.4 L1499.9,779.9 L1502.3,774.3 L1504.7,768.7 L1507.1,763.1 L1509.6,757.4 L1512.0,751.8 L1514.4,746.1 L1516.9,740.4 L1519.3,734.6 L1521.7,728.9 L1524.1,723.1 L1526.6,717.4 L1529.0,711.6 L1531.4,705.8 L1533.8,699.9 L1536.3,694.1 L1538.7,688.2 L1541.1,682.4 L1543.6,676.5 L1546.0,670.6 L1548.4,664.7 L1550.8,658.8 L1553.3,652.9 L1555.7,647.0 L1558.1,641.0 L1560.5,635.1 L1563.0,629.1 L1565.4,623.2 L1567.8,617.2 L1570.3,611.2 L1572.7,605.3 L1575.1,599.3 L1577.5,593.3 L1580.0,587.3 L1582.4,581.3 L1584.8,575.4 L1587.2,569.4 L1589.7,563.4 L1592.1,557.4 L1594.5,551.4 L1597.0,545.5 L1599.4,539.5 L1601.8,533.5 L1604.2,527.6 L1606.7,521.6 L1609.1,515.7 L1611.5,509.7 L1613.9,503.8 L1616.4,497.9 L1618.8,491.9 L1621.2,486.0 L1623.7,480.1 L1626.1,474.3 L1628.5,468.4 L1630.9,462.5 L1633.4,456.7 L1635.8,450.8 L1638.2,445.0 L1640.6,439.2 L1643.1,433.4 L1645.5,427.7 L1647.9,421.9 L1650.4,416.2 L1652.8,410.4 L1655.2,404.7 L1657.6,399.1 L1660.1,393.4 L1662.5,387.8 L1664.9,382.1 L1667.3,376.5 L1669.8,371.0 L1672.2,365.4 L1674.6,359.9 L1677.1,354.4 L1679.5,348.9 L1681.9,343.4 L1684.3,338.0 L1686.8,332.6 L1689.2,327.2 L1691.6,321.8 L1694.0,316.5 L1696.5,311.2 L1698.9,305.9 L1701.3,300.7 L1703.8,295.4 L1706.2,290.3 L1708.6,285.1 L1711.0,280.0 L1713.5,274.9 L1715.9,269.8 L1718.3,264.8 L1720.8,259.7 L1723.2,254.8 L1725.6,249.8 L1728.0,244.9 L1730.5,240.0 L1732.9,235.2 L1735.3,230.3 L1737.7,225.6 L1740.2,220.8 L1742.6,216.1 L1745.0,211.4 L1747.5,206.7 L1749.9,202.1 L1752.3,197.5 L1754.7,193.0 L1757.2,188.5 L1759.6,184.0 L1762.0,179.5 L1764.4,175.1 L1766.9,170.7 L1769.3,166.4 L1771.7,162.1 L1774.2,157.8 L1776.6,153.6 L1779.0,149.4 L1781.4,145.2 L1783.9,141.1 L1786.3,137.0 L1788.7,132.9 L1791.1,128.9 L1793.6,124.9 L1796.0,120.9 L1798.4,117.0 L1800.9,113.1 L1803.3,109.3 L1805.7,105.4 L1808.1,101.7 L1810.6,97.9 L1813.0,94.2 L1815.4,90.5 L1817.8,86.9 L1820.3,83.3 L1822.7,79.7 L1825.1,76.2 L1827.6,72.7 L1830.0,69.2 L1832.4,65.8 L1834.8,62.4 L1837.3,59.0 L1839.7,55.7 L1842.1,52.4 L1844.5,49.1 L1847.0,45.9 L1849.4,42.7 L1851.8,39.5 L1854.3,36.4 L1856.7,33.3" stroke="#008000" stroke-width="9.3"/>
</g>
<g fill="none" stroke="#000" stroke-width="5.3" stroke-linecap="round" stroke-linejoin="miter">
<path d="M327.7,1440.7 V66.8" stroke-linecap="butt"/>
<path d="M327.7,1440.7 H2008.3" stroke-linecap="butt"/>
<path d="M327.7,66.8 h-25.2 M327.7,1440.7 h-25.2 M327.7,1440.7 v25.2 M2008.3,1440.7 v25.2"/>
<path d="M327.7,1326.21 h-12.6"/>
<path d="M327.7,1211.72 h-25.2"/>
<path d="M327.7,1097.22 h-12.6"/>
<path d="M327.7,982.73 h-25.2"/>
<path d="M327.7,868.24 h-12.6"/>
<path d="M327.7,753.75 h-25.2"/>
<path d="M327.7,639.26 h-12.6"/>
<path d="M327.7,524.77 h-25.2"/>
<path d="M327.7,410.27 h-12.6"/>
<path d="M327.7,295.78 h-25.2"/>
<path d="M327.7,181.29 h-12.6"/>
<path d="M495.76,1440.7 v12.4"/>
<path d="M663.82,1440.7 v25.2"/>
<path d="M831.88,1440.7 v12.4"/>
<path d="M999.94,1440.7 v25.2"/>
<path d="M1168.00,1440.7 v12.4"/>
<path d="M1336.06,1440.7 v25.2"/>
<path d="M1504.12,1440.7 v12.4"/>
<path d="M1672.18,1440.7 v25.2"/>
<path d="M1840.24,1440.7 v12.4"/>
</g>
<g fill="none" stroke-width="6.3" stroke-linecap="round">
<path d="M1471.25,1440.5 L1634.46,700" stroke="#000000"/>
<path d="M1204.23,1436.7 L1482.59,640" stroke="#ff00ff"/>
<path d="M1234.32,1439.1 L1573.14,600" stroke="#008000"/>
<path d="M1315.46,1442.9 L1697.24,640" stroke="#0000ff"/>
<path d="M1371.08,1439.4 L1625.7,578" stroke="#ff0000"/>
</g>
<text class="tk" transform="translate(284.3,1455.4) scale(0.962,1)" text-anchor="end">0</text>
<text class="tk" transform="translate(284.3,1226.4) scale(0.962,1)" text-anchor="end">2</text>
<text class="tk" transform="translate(284.3,997.4) scale(0.962,1)" text-anchor="end">4</text>
<text class="tk" transform="translate(284.3,768.5) scale(0.962,1)" text-anchor="end">6</text>
<text class="tk" transform="translate(284.3,539.5) scale(0.962,1)" text-anchor="end">8</text>
<text class="tk" transform="translate(284.3,310.5) scale(0.962,1)" text-anchor="end">10</text>
<text class="tk" transform="translate(284.3,81.5) scale(0.962,1)" text-anchor="end">12</text>
<text class="tk" transform="translate(328.0,1527.8) scale(0.962,1)" text-anchor="middle">1.50</text>
<text class="tk" transform="translate(664.1,1527.8) scale(0.962,1)" text-anchor="middle">1.75</text>
<text class="tk" transform="translate(1000.2,1527.8) scale(0.962,1)" text-anchor="middle">2.00</text>
<text class="tk" transform="translate(1336.4,1527.8) scale(0.962,1)" text-anchor="middle">2.25</text>
<text class="tk" transform="translate(1672.5,1527.8) scale(0.962,1)" text-anchor="middle">2.50</text>
<text class="tk" transform="translate(2008.6,1527.8) scale(0.962,1)" text-anchor="middle">2.75</text>
<text class="ax" y="1642.2"><tspan x="1057.5">h</tspan><tspan class="gr" x="1096.8" textLength="34.32" lengthAdjust="spacingAndGlyphs">ν</tspan><tspan x="1131.62"> (eV)</tspan></text>
<text class="ax" transform="translate(111.2,1042.5) rotate(-90)"><tspan x="0" y="0">(</tspan><tspan class="gr" style="font-size:67.8px" x="23.3" textLength="43.69" lengthAdjust="spacingAndGlyphs">α</tspan><tspan x="66.5">h</tspan><tspan class="gr" style="font-size:68px" x="105.8" textLength="33.82" lengthAdjust="spacingAndGlyphs">ν</tspan><tspan x="140.8">)</tspan><tspan class="sup" x="162.4" y="-33.4">2</tspan><tspan x="184.32" y="0"> (eV/cm</tspan><tspan class="sup" x="421.5" y="-33.4">2</tspan><tspan x="445.9" y="0">)</tspan></text>
<rect x="384.1" y="110.0" width="1085.3" height="512.9" fill="#fff" stroke="#000" stroke-width="1.9"/>
<path d="M443,177.5 H583" stroke="#000000" stroke-width="9.6" stroke-linecap="round" fill="none"/>
<text class="lg" transform="translate(599,198.9) scale(0.9780,1)">MAPbBr<tspan class="sub" dy="21">3</tspan><tspan dy="-21"></tspan></text>
<path d="M443,275.5 H583" stroke="#ff0000" stroke-width="9.6" stroke-linecap="round" fill="none"/>
<text class="lg" transform="translate(599,297.3) scale(0.9723,1)">(1% Bi-MAPbBr<tspan class="sub" dy="21">3</tspan><tspan dy="-21">)(2.27 eV)</tspan></text>
<path d="M443,374 H583" stroke="#0000ff" stroke-width="9.6" stroke-linecap="round" fill="none"/>
<text class="lg" transform="translate(599,394.9) scale(0.9704,1)">(1% Bi &amp; 0.5% Sb)-MAPbBr<tspan class="sub" dy="21">3</tspan><tspan dy="-21">)</tspan></text>
<path d="M443,472 H583" stroke="#ff00ff" stroke-width="9.6" stroke-linecap="round" fill="none"/>
<text class="lg" transform="translate(599,493.9) scale(0.9710,1)">(1% Bi &amp; 1% Sb)-MAPbBr<tspan class="sub" dy="21">3</tspan><tspan dy="-21">)</tspan></text>
<path d="M443,570.7 H583" stroke="#008000" stroke-width="9.6" stroke-linecap="round" fill="none"/>
<text class="lg" transform="translate(599,592.0) scale(0.9704,1)">(1% Bi &amp; 1.5% Sb)-MAPbBr<tspan class="sub" dy="21">3</tspan><tspan dy="-21">)</tspan></text>
</svg></body></html>
